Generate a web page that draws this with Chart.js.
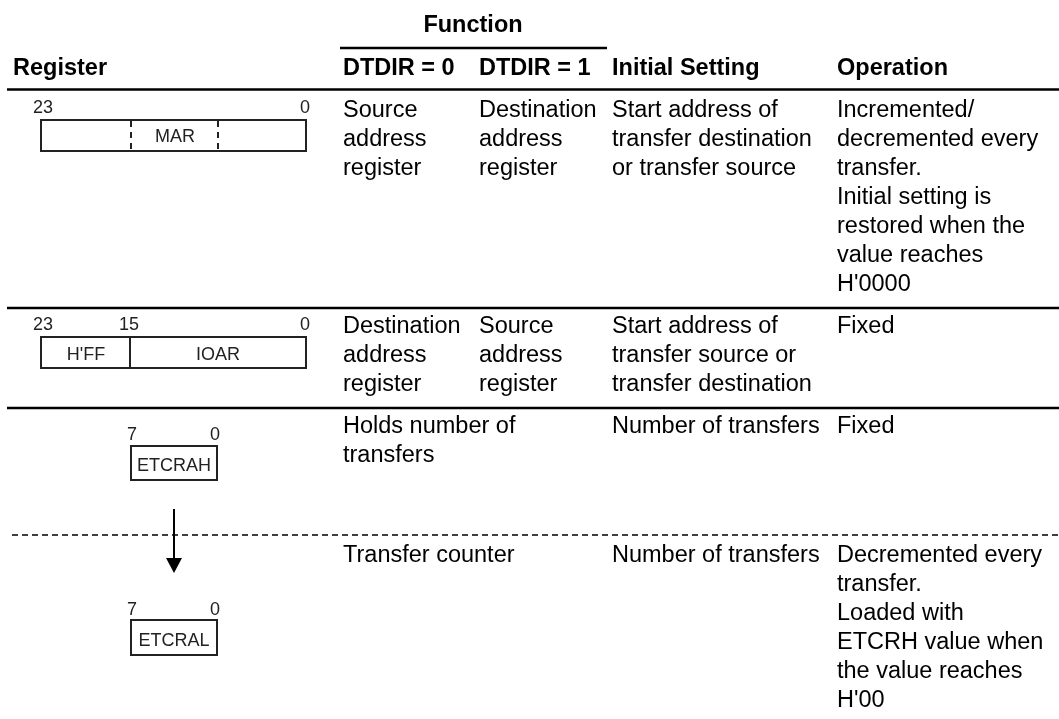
<!DOCTYPE html>
<html>
<head>
<meta charset="utf-8">
<script src="https://cdn.jsdelivr.net/npm/chart.js@4.4.1/dist/chart.umd.min.js"></script>
<style>
html,body{margin:0;padding:0;background:#fff;}
canvas{display:block;}
</style>
</head>
<body>
<canvas id="regChart" width="1059" height="719"></canvas>
<script>
// table content
const groupTitle = "Function";
const headerLabels = ["Register", "DTDIR = 0", "DTDIR = 1", "Initial Setting", "Operation"];

const dtdir0Text = [
    ["Source", "address", "register"],
    ["Destination", "address", "register"],
    ["Holds number of", "transfers"],
    ["Transfer counter"]
];
const dtdir1Text = [
    ["Destination", "address", "register"],
    ["Source", "address", "register"],
    [],
    []
];
const initialText = [
    ["Start address of", "transfer destination", "or transfer source"],
    ["Start address of", "transfer source or", "transfer destination"],
    ["Number of transfers"],
    ["Number of transfers"]
];
const operationText = [
    ["Incremented/", "decremented every", "transfer.", "Initial setting is", "restored when the", "value reaches", "H'0000"],
    ["Fixed"],
    ["Fixed"],
    ["Decremented every", "transfer.", "Loaded with", "ETCRH value when", "the value reaches", "H'00"]
];
const registerFields = [["MAR"], ["H'FF", "IOAR"], ["ETCRAH"], ["ETCRAL"]];
const bitNumbers = [["23", "0"], ["23", "15", "0"], ["7", "0"], ["7", "0"]];

// layout in the 1059 x 719 frame
const colX = [13, 343, 479, 612, 837];
const lineGap = 29;
const rowBaseline = [117, 333, 433, 562];
const ruleY = [89.5, 308, 408];
const dashY = 535;

const FONT = '"Liberation Sans", Arial, Helvetica, sans-serif';

const tablePlugin = {
    id: "registerTable",
    afterDraw(chart){

        const ctx = chart.ctx;
        const sx = chart.scales.x;
        const sy = chart.scales.y;
        const px = v => sx.getPixelForValue(v);
        const py = v => sy.getPixelForValue(v);

        ctx.save();
        ctx.fillStyle = "#000";
        ctx.strokeStyle = "#000";
        ctx.textBaseline = "alphabetic";

        function text(str, x, y, align){
            ctx.textAlign = align || "left";
            ctx.fillText(str, px(x), py(y));
        }
        function hline(x1, x2, y, w, dash){
            ctx.beginPath();
            ctx.lineWidth = w;
            ctx.setLineDash(dash || []);
            ctx.moveTo(px(x1), py(y));
            ctx.lineTo(px(x2), py(y));
            ctx.stroke();
            ctx.setLineDash([]);
        }
        function vline(x, y1, y2, w, dash){
            ctx.beginPath();
            ctx.lineWidth = w;
            ctx.setLineDash(dash || []);
            ctx.moveTo(px(x), py(y1));
            ctx.lineTo(px(x), py(y2));
            ctx.stroke();
            ctx.setLineDash([]);
        }
        function box(x1, y1, x2, y2){
            ctx.lineWidth = 2;
            ctx.strokeRect(px(x1), py(y1), px(x2) - px(x1), py(y2) - py(y1));
        }

        // headers
        ctx.font = "bold 23.5px " + FONT;
        text(groupTitle, 473, 32, "center");
        headerLabels.forEach((h, i) => text(h, colX[i], 75));
        hline(340, 607, 48, 2.5);
        hline(7, 1059, ruleY[0], 2.5);
        hline(7, 1059, ruleY[1], 2.5);
        hline(7, 1059, ruleY[2], 2.5);
        hline(12, 1059, dashY, 1.5, [6, 4]);

        // body cells
        ctx.font = "23.5px " + FONT;
        [dtdir0Text, dtdir1Text, initialText, operationText].forEach((col, c) => {
            col.forEach((lines, r) => {
                lines.forEach((ln, k) => text(ln, colX[c + 1], rowBaseline[r] + k * lineGap));
            });
        });

        // register pictures
        ctx.strokeStyle = "#222";
        ctx.fillStyle = "#222";
        ctx.font = "18px " + FONT;

        // MAR
        box(41, 120, 306, 151);
        vline(131, 121, 150, 2, [6, 5]);
        vline(218, 121, 150, 2, [6, 5]);
        text(registerFields[0][0], 175, 142, "center");
        text(bitNumbers[0][0], 33, 113);
        text(bitNumbers[0][1], 310, 113, "right");

        // H'FF / IOAR
        box(41, 337, 306, 368);
        vline(130, 337, 368, 2);
        text(registerFields[1][0], 86, 360, "center");
        text(registerFields[1][1], 218, 360, "center");
        text(bitNumbers[1][0], 33, 330);
        text(bitNumbers[1][1], 129, 330, "center");
        text(bitNumbers[1][2], 310, 330, "right");

        // ETCRAH
        box(131, 446, 217, 480);
        text(registerFields[2][0], 174, 471, "center");
        text(bitNumbers[2][0], 127, 440);
        text(bitNumbers[2][1], 220, 440, "right");

        // ETCRAL
        box(131, 620, 217, 655);
        text(registerFields[3][0], 174, 646, "center");
        text(bitNumbers[3][0], 127, 615);
        text(bitNumbers[3][1], 220, 615, "right");

        // arrow from ETCRAH down to ETCRAL
        ctx.strokeStyle = "#000";
        ctx.fillStyle = "#000";
        vline(174, 509, 560, 2);
        ctx.beginPath();
        ctx.moveTo(px(166), py(558));
        ctx.lineTo(px(182), py(558));
        ctx.lineTo(px(174), py(573));
        ctx.closePath();
        ctx.fill();

        ctx.restore();
    }
};

new Chart(document.getElementById("regChart"), {
    type: "scatter",
    data: { datasets: [] },
    options: {
        responsive: false,
        animation: false,
        layout: { padding: 0 },
        plugins: { legend: { display: false }, tooltip: { enabled: false } },
        scales: {
            x: { type: "linear", min: 0, max: 1059, display: false },
            y: { type: "linear", min: 0, max: 719, reverse: true, display: false }
        }
    },
    plugins: [tablePlugin]
});
</script>
</body>
</html>
